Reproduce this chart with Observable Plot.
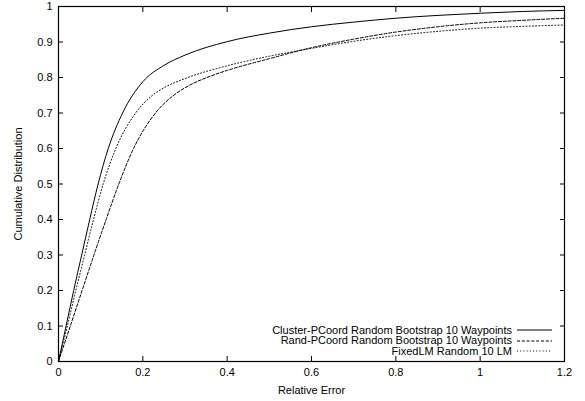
<!DOCTYPE html>
<html><head><meta charset="utf-8">
<script src="https://cdn.jsdelivr.net/npm/d3@7"></script>
<script src="https://cdn.jsdelivr.net/npm/@observablehq/plot@0.6"></script>
<style>
html,body{margin:0;padding:0;background:#fff;}
#wrap{position:relative;width:585px;height:401px;font-family:"Liberation Sans",Arial,sans-serif;color:#000;}
.row{position:absolute;right:33px;height:13px;line-height:13px;font-size:11px;display:flex;align-items:center;white-space:nowrap;}
.row svg{margin-left:5px;}
</style></head><body><div id="wrap"></div>
<script>
const seriesNames = [
  "Cluster-PCoord Random Bootstrap 10 Waypoints",
  "Rand-PCoord Random Bootstrap 10 Waypoints",
  "FixedLM Random 10 LM"
];
const clusterX = [0,0.018,0.036,0.055,0.074,0.094,0.118,0.152,0.2,0.25,0.3,0.4,0.5,0.6,0.7,0.8,0.9,1.0,1.1,1.2];
const clusterY = [0,0.1,0.2,0.3,0.4,0.5,0.6,0.7,0.788,0.834,0.863,0.901,0.925,0.943,0.956,0.967,0.975,0.981,0.986,0.989];
const randX = [0,0.028,0.056,0.084,0.113,0.143,0.178,0.23,0.27,0.3,0.363,0.4,0.5,0.6,0.7,0.8,0.9,1.0,1.1,1.2];
const randY = [0,0.1,0.2,0.3,0.4,0.5,0.6,0.7,0.747,0.771,0.805,0.82,0.853,0.884,0.908,0.928,0.943,0.954,0.961,0.967];
const fixedX = [0,0.021,0.041,0.062,0.083,0.106,0.136,0.183,0.22,0.25,0.3,0.4,0.5,0.6,0.7,0.8,0.9,1.0,1.1,1.2];
const fixedY = [0,0.1,0.2,0.3,0.4,0.5,0.6,0.7,0.747,0.771,0.797,0.833,0.86,0.882,0.902,0.918,0.93,0.939,0.944,0.948];
const xTicks = [0,0.2,0.4,0.6,0.8,1,1.2];
const yTicks = [0,0.1,0.2,0.3,0.4,0.5,0.6,0.7,0.8,0.9,1];
const xLabel = "Relative Error";
const yLabel = "Cumulative Distribution";

const dashes = ["none","3,1.8","1,2.2"];
const seriesXY = [[clusterX,clusterY],[randX,randY],[fixedX,fixedY]];
const rows = seriesXY.map(([xs,ys],i)=>xs.map((x,j)=>({series:seriesNames[i],x,y:ys[j]})));
const fmt = d3.format("~g");
const blank = () => "";

const chart = Plot.plot({
  width:585, height:401,
  marginLeft:58, marginRight:21, marginTop:6, marginBottom:40,
  x:{domain:[0,1.2]}, y:{domain:[0,1]},
  style:{fontFamily:'"Liberation Sans",Arial,sans-serif', fontSize:"11px", color:"#000", background:"#fff"},
  marks:[
    Plot.axisX(xTicks,{anchor:"bottom",tickSize:0,tickPadding:7,tickFormat:fmt,label:null}),
    Plot.axisX(xTicks,{anchor:"bottom",tickSize:-5,tickFormat:blank,label:null}),
    Plot.axisX(xTicks,{anchor:"top",tickSize:-5,tickFormat:blank,label:null}),
    Plot.axisY(yTicks,{anchor:"left",tickSize:0,tickPadding:6,tickFormat:fmt,label:null}),
    Plot.axisY(yTicks,{anchor:"left",tickSize:-5,tickFormat:blank,label:null}),
    Plot.axisY(yTicks,{anchor:"right",tickSize:-5,tickFormat:blank,label:null}),
    ...rows.map((r,i)=>Plot.line(r,{x:"x",y:"y",stroke:"#000",strokeWidth:1,strokeDasharray:dashes[i],curve:"monotone-x"})),
    Plot.frame({stroke:"#000",strokeWidth:1.2}),
    Plot.text([xLabel],{text:d=>d,frameAnchor:"bottom",dy:29,lineAnchor:"middle"}),
    Plot.text([yLabel],{text:d=>d,frameAnchor:"left",rotate:-90,dx:-40,textAnchor:"middle",lineAnchor:"middle"})
  ]
});
const wrap = document.getElementById("wrap");
wrap.appendChild(chart);
const rowCenters = [330,340.5,351];
seriesNames.forEach((name,i)=>{
  const row = document.createElement("div");
  row.className = "row";
  row.style.top = (rowCenters[i]-6.5)+"px";
  const span = document.createElement("span");
  span.textContent = name;
  row.appendChild(span);
  const svg = d3.create("svg").attr("width",35).attr("height",4);
  svg.append("line").attr("x1",0).attr("x2",35).attr("y1",2).attr("y2",2)
    .attr("stroke","#000").attr("stroke-width",1).attr("stroke-dasharray",dashes[i]);
  row.appendChild(svg.node());
  wrap.appendChild(row);
});
</script></body></html>
